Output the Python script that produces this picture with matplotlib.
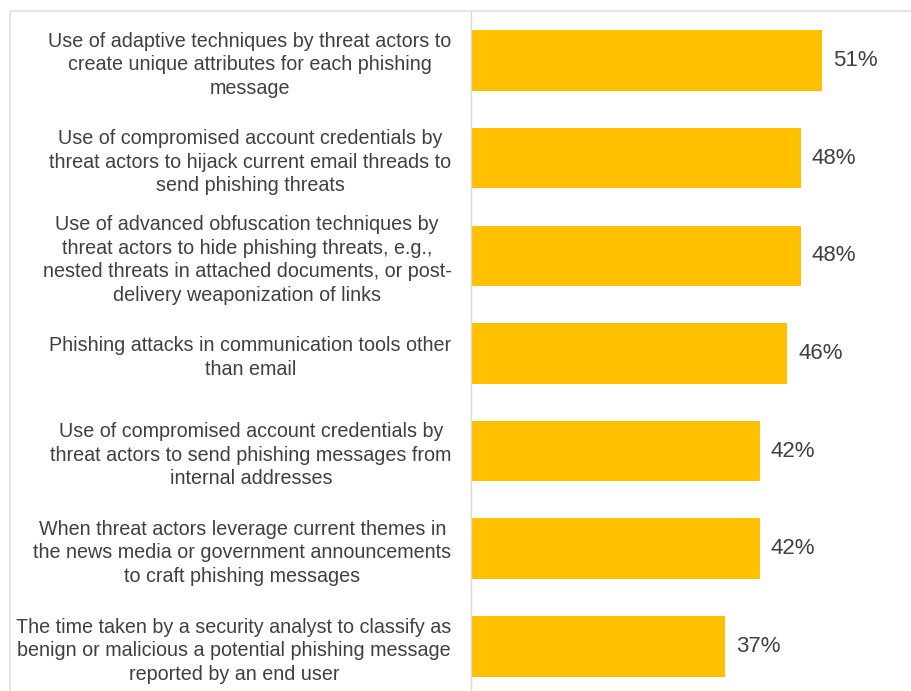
import matplotlib.pyplot as plt
from matplotlib.patches import Rectangle

labels = [
    "Use of adaptive techniques by threat actors to\ncreate unique attributes for each phishing\nmessage",
    "Use of compromised account credentials by\nthreat actors to hijack current email threads to\nsend phishing threats",
    "Use of advanced obfuscation techniques by\nthreat actors to hide phishing threats, e.g.,\nnested threats in attached documents, or post-\ndelivery weaponization of links",
    "Phishing attacks in communication tools other\nthan email",
    "Use of compromised account credentials by\nthreat actors to send phishing messages from\ninternal addresses",
    "When threat actors leverage current themes in\nthe news media or government announcements\nto craft phishing messages",
    "The time taken by a security analyst to classify as\nbenign or malicious a potential phishing message\nreported by an end user",
]
values = [51, 48, 48, 46, 42, 42, 37]

plt.rcParams['font.family'] = ['Liberation Sans', 'DejaVu Sans']

fig = plt.figure(figsize=(9.11, 6.91), dpi=100)
ax = fig.add_axes([471 / 911, -0.006, 440 / 911, 0.989])

y = range(len(values))
ax.barh(y, values, height=0.62, color='#FFC000')
ax.set_ylim(len(values) - 0.5, -0.5)
ax.set_xlim(0, 64)

for yi, v in zip(y, values):
    ax.text(v + 1.6, yi, f"{v}%", va='center', ha='left', fontsize=16, color='#404040')

ax.set_yticks(list(y))
ax.set_yticklabels(labels, fontsize=14.2, color='#404040', multialignment='center',
                   linespacing=1.3)
ax.tick_params(axis='y', length=0, pad=14)
ax.set_xticks([])
for s in ['top', 'right', 'bottom']:
    ax.spines[s].set_visible(False)
ax.spines['left'].set_color('#d9d9d9')
ax.spines['left'].set_linewidth(1)

# light chart-area border
fig.patches.append(Rectangle((10 / 911, -0.1), 1.0, (691 - 11) / 691 + 0.1,
                             transform=fig.transFigure, fill=False,
                             edgecolor='#e0e0e0', linewidth=1.2, zorder=0))

plt.savefig('out.png', dpi=100)
